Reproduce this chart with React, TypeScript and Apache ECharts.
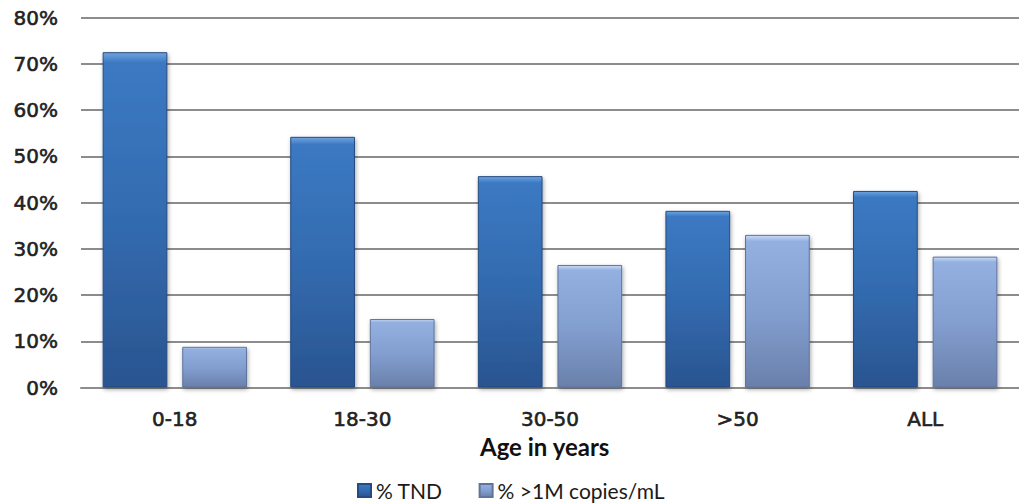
import React, { useEffect, useRef } from "react";
import * as echarts from "echarts";

// Age groups and the two measured shares (percent)
const ageGroups = ["0-18", "18-30", "30-50", ">50", "ALL"];
const pctTND = [72.5, 54.2, 45.7, 38.2, 42.5];
const pctHighLoad = [8.8, 14.8, 26.5, 33.0, 28.3];
const seriesNames = ["% TND", "% >1M copies/mL"];
const axisTitle = "Age in years";

const darkBlue = new echarts.graphic.LinearGradient(0, 0, 0, 1, [
  { offset: 0, color: "#6fa3e0" },
  { offset: 0.03, color: "#3b79c2" },
  { offset: 0.5, color: "#336bb0" },
  { offset: 1, color: "#2a5490" },
]);
const lightBlue = new echarts.graphic.LinearGradient(0, 0, 0, 1, [
  { offset: 0, color: "#c9dcf6" },
  { offset: 0.04, color: "#93b0e0" },
  { offset: 0.5, color: "#839fd0" },
  { offset: 1, color: "#6a80ab" },
]);

export default function App() {
  const ref = useRef<HTMLDivElement>(null);

  useEffect(() => {
    if (!ref.current) return;
    const chart = echarts.init(ref.current, undefined, { renderer: "svg" });
    // medium-weight tick labels: regular face with a thin same-colour outline
    const labelFont = {
      fontFamily: "DejaVu Sans",
      fontSize: 20,
      color: "#222",
      textBorderColor: "#222",
      textBorderWidth: 0.6,
    };
    chart.setOption({
      animation: false,
      backgroundColor: "#ffffff",
      grid: { left: 81, width: 947, top: 17.5, bottom: 115.5, containLabel: false },
      legend: {
        left: 357,
        top: 480,
        itemWidth: 13,
        itemHeight: 13,
        itemGap: 36,
        icon: "rect",
        padding: 0,
        textStyle: { fontFamily: "Lato", fontSize: 21, lineHeight: 19, color: "#1a1a1a" },
        data: seriesNames,
      },
      graphic: [
        {
          type: "text",
          left: 480,
          top: 434,
          style: {
            text: axisTitle,
            fontFamily: "Lato",
            fontWeight: "bold",
            fontSize: 24,
            fill: "#111",
          },
        },
      ],
      xAxis: {
        type: "category",
        data: ageGroups,
        axisLine: { show: true, lineStyle: { color: "#8c8c8c", width: 2 } },
        axisTick: { show: false },
        axisLabel: { ...labelFont, margin: 21 },
      },
      yAxis: {
        type: "value",
        min: 0,
        max: 80,
        interval: 10,
        axisLine: { show: false },
        axisTick: { show: false },
        axisLabel: { ...labelFont, margin: 23, formatter: "{value}%" },
        splitLine: { lineStyle: { color: "#8c8c8c", width: 2 } },
      },
      series: [
        {
          name: seriesNames[0],
          type: "bar",
          data: pctTND,
          barWidth: "34.5%",
          barGap: "23%",
          itemStyle: {
            color: darkBlue,
            borderColor: "#254b80",
            borderWidth: 1,
            shadowColor: "rgba(0,0,0,0.35)",
            shadowBlur: 4,
            shadowOffsetX: 1,
            shadowOffsetY: 2,
          },
        },
        {
          name: seriesNames[1],
          type: "bar",
          data: pctHighLoad,
          barWidth: "34.5%",
          itemStyle: {
            color: lightBlue,
            borderColor: "#5f739c",
            borderWidth: 1,
            shadowColor: "rgba(0,0,0,0.35)",
            shadowBlur: 4,
            shadowOffsetX: 1,
            shadowOffsetY: 2,
          },
        },
      ],
    });
    return () => chart.dispose();
  }, []);

  return <div ref={ref} style={{ width: 1019, height: 503, position: "absolute", left: 0, top: 0 }} />;
}
